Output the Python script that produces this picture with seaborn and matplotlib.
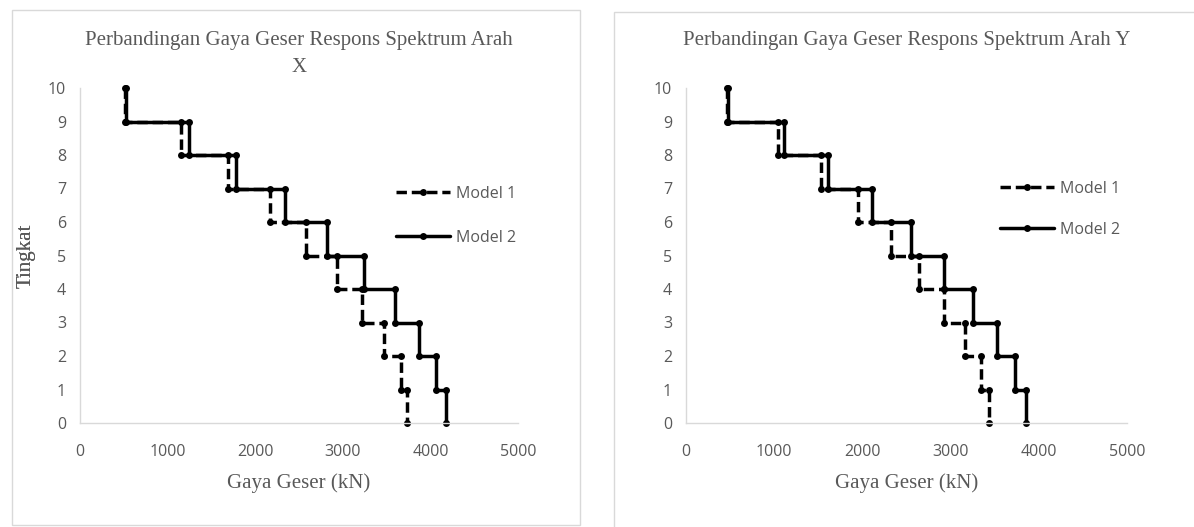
import matplotlib
matplotlib.use("Agg")
import matplotlib.pyplot as plt
import seaborn as sns
import pandas as pd
from matplotlib.patches import Rectangle

# ---- data ----
stories = [10, 9, 8, 7, 6, 5, 4, 3, 2, 1]
shear_x_model1 = [515, 1152, 1689, 2172, 2581, 2933, 3219, 3474, 3659, 3738]
shear_x_model2 = [528, 1240, 1777, 2340, 2823, 3241, 3593, 3870, 4068, 4173]
shear_y_model1 = [460, 1045, 1529, 1947, 2328, 2643, 2922, 3164, 3340, 3434]
shear_y_model2 = [471, 1115, 1607, 2111, 2553, 2930, 3258, 3525, 3730, 3852]
series_names = ["Model 1", "Model 2"]
x_ticks = [0, 1000, 2000, 3000, 4000, 5000]
y_ticks = list(range(0, 11))
titles = [["Perbandingan Gaya Geser Respons Spektrum Arah", "X"],
          ["Perbandingan Gaya Geser Respons Spektrum Arah Y"]]
x_label = "Gaya Geser (kN)"
y_label = "Tingkat"


def step_frame(values, name):
    xs, ys = [], []
    for lvl, v in zip(stories, values):
        xs += [v, v]
        ys += [lvl, lvl - 1]
    return pd.DataFrame({"x": xs, "y": ys, "series": name})


sns.set_theme(style="white")
plt.rcParams["font.family"] = ["Open Sans", "DejaVu Sans"]

W, H = 1194, 527
fig = plt.figure(figsize=(W / 100, H / 100), dpi=100)
fig.patch.set_facecolor("white")

gray_text = "#595959"
spine_col = "#d9d9d9"
serif = ["Liberation Serif", "DejaVu Serif"]

# panel borders (pixel coords: left, right, top, bottom)
for (x0, x1, y0, y1) in [(12, 580, 10, 525), (614, 1200, 12, 530)]:
    fig.patches.append(Rectangle((x0 / W, (H - y1) / H), (x1 - x0) / W, (y1 - y0) / H,
                                 transform=fig.transFigure, fill=False,
                                 edgecolor="#d9d9d9", linewidth=1.0))

axes_rects = [
    (80, 518, 88, 423),
    (686, 1127, 88, 423),
]
data_sets = [(shear_x_model1, shear_x_model2), (shear_y_model1, shear_y_model2)]
legend_pos = [(396, 186, 1.75), (1000, 181, 1.55)]

for i, ((l, r, t, b), (m1, m2)) in enumerate(zip(axes_rects, data_sets)):
    ax = fig.add_axes([l / W, (H - b) / H, (r - l) / W, (b - t) / H])
    df = pd.concat([step_frame(m1, series_names[0]), step_frame(m2, series_names[1])])
    sns.lineplot(data=df, x="x", y="y", hue="series", style="series",
                 palette=["black", "black"],
                 dashes={"Model 1": (3.0, 1.4), "Model 2": ""},
                 markers={"Model 1": "o", "Model 2": "o"},
                 markersize=5, linewidth=2.5, sort=False, estimator=None,
                 ax=ax, clip_on=False, markeredgewidth=0)
    ax.set_xlim(0, 5000)
    ax.set_ylim(0, 10)
    ax.set_xticks(x_ticks)
    ax.set_yticks(y_ticks)
    ax.tick_params(axis="both", length=0, labelsize=11.5, colors=gray_text)
    ax.tick_params(axis="x", pad=15)
    ax.tick_params(axis="y", pad=10)
    for s in ["top", "right"]:
        ax.spines[s].set_visible(False)
    for s in ["left", "bottom"]:
        ax.spines[s].set_color(spine_col)
        ax.spines[s].set_linewidth(1.0)
    h = b - t
    w = r - l
    ax.set_xlabel(x_label, family=serif, fontsize=15, color=gray_text, va="center")
    ax.xaxis.set_label_coords(0.5, (b - 483) / h)
    ax.set_ylabel(y_label, family=serif, fontsize=15, color=gray_text, va="center")
    ax.yaxis.set_label_coords((26 - l) / w, 0.5)
    cx = (l + r) / 2 / W
    for j, line in enumerate(titles[i]):
        fig.text(cx, (H - (41 + 27 * j)) / H, line, family=serif, fontsize=15,
                 color=gray_text, ha="center", va="center")
    lx, ly, sp = legend_pos[i]
    leg = ax.legend(loc="upper left", bbox_to_anchor=(lx / W, (H - ly) / H),
                    bbox_transform=fig.transFigure, frameon=False, fontsize=11.5,
                    handlelength=3.4, labelspacing=sp, handletextpad=0.35,
                    borderpad=0, borderaxespad=0)
    for txt in leg.get_texts():
        txt.set_color(gray_text)

fig.savefig("out.png", dpi=100, facecolor="white")
